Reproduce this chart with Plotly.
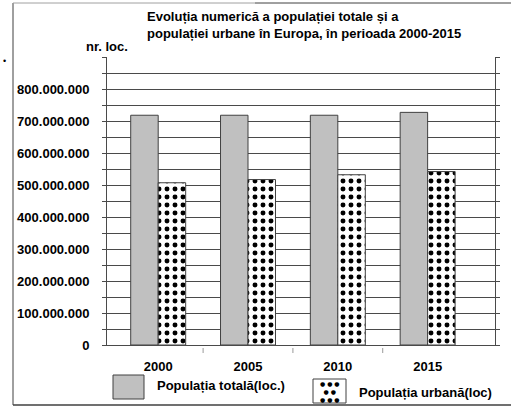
import plotly.graph_objects as go

# ---- data ----
years = ["2000", "2005", "2010", "2015"]
total_pop = [718e6, 718e6, 718e6, 727e6]
urban_pop = [507e6, 517e6, 532e6, 542e6]
y_ticks = [0, 100e6, 200e6, 300e6, 400e6, 500e6, 600e6, 700e6, 800e6]
series_names = ["Populația totală(loc.)", "Populația urbană(loc)"]
title_lines = ["Evoluția numerică a populației totale și a",
               "populației urbane în Europa, în perioada 2000-2015"]
y_title = "nr. loc."

W, H = 511, 407
L, R, T, B = 107, 495, 57, 345  # plot area in px


def px(x):
    return (x - L) / (R - L)


def py(y):
    return (B - y) / (B - T)


FONT = "Liberation Sans, Arial, sans-serif"
GRID = "#4a4a4a"

fig = go.Figure()
fig.add_trace(go.Bar(
    x=years, y=total_pop, name=series_names[0],
    marker=dict(color="#c0c0c0", line=dict(color="#404040", width=1)),
    showlegend=False,
))
fig.add_trace(go.Bar(
    x=years, y=urban_pop, name=series_names[1],
    marker=dict(color="white", line=dict(color="#404040", width=1),
                pattern=dict(shape=".", fgcolor="black", bgcolor="white",
                             size=8, solidity=0.3, fillmode="replace")),
    showlegend=False,
))

fig.update_layout(
    width=W, height=H,
    margin=dict(l=L, r=W - R, t=T, b=H - B, pad=0),
    paper_bgcolor="white", plot_bgcolor="white",
    separators=",.",
    barmode="group", bargap=0.388, bargroupgap=0,
    font=dict(family=FONT, size=13, color="black"),
    showlegend=False,
)
fig.update_yaxes(
    range=[0, 900e6], tickmode="array", tickvals=y_ticks, tickformat=",d",
    showgrid=True, gridcolor=GRID, gridwidth=1,
    showline=True, linecolor=GRID, linewidth=1, mirror="ticks",
    ticks="outside", ticklen=4, tickcolor=GRID,
    tickfont=dict(family=FONT, size=13, weight=700, color="black"),
    ticklabelstandoff=10,
    minor=dict(dtick=50e6, showgrid=True, gridcolor=GRID, gridwidth=1,
               ticks="outside", ticklen=4, tickcolor=GRID),
    zeroline=False,
)
fig.update_xaxes(
    type="category", range=[-0.57, 3.75],
    showgrid=False, showline=True, linecolor=GRID, linewidth=1,
    ticks="", tickfont=dict(family=FONT, size=13, weight=700, color="black"),
    ticklabelstandoff=9,
)

ann = []
# title
ann.append(dict(xref="paper", yref="paper", x=px(145), y=py(25),
                xanchor="left", yanchor="middle", align="left", showarrow=False,
                text="<br>".join(title_lines),
                font=dict(family=FONT, size=13, weight=700, color="black")))
# y-axis title
ann.append(dict(xref="paper", yref="paper", x=px(106.5), y=py(47),
                xanchor="center", yanchor="middle", showarrow=False,
                text=y_title,
                font=dict(family=FONT, size=13, weight=700, color="black")))
# legend labels
ann.append(dict(xref="paper", yref="paper", x=px(155), y=py(385),
                xanchor="left", yanchor="middle", showarrow=False,
                text=series_names[0],
                font=dict(family=FONT, size=13, weight=700, color="black")))
ann.append(dict(xref="paper", yref="paper", x=px(357), y=py(392),
                xanchor="left", yanchor="middle", showarrow=False,
                text=series_names[1],
                font=dict(family=FONT, size=13, weight=700, color="black")))
# dots inside the urban legend swatch
ann.append(dict(xref="paper", yref="paper", x=px(329.5), y=py(391),
                xanchor="center", yanchor="middle", showarrow=False,
                text="● ● ●<br>● ●<br>● ● ●",
                font=dict(family="DejaVu Sans", size=6, color="black")))
# stray mark at the left
ann.append(dict(xref="paper", yref="paper", x=px(4), y=py(61),
                xanchor="center", yanchor="middle", showarrow=False,
                text="•", font=dict(family=FONT, size=9, color="black")))
fig.update_layout(annotations=ann)

shapes = []
# short separator ticks between the year groups
for bx in [0.5, 1.5, 2.5]:
    shapes.append(dict(type="line", xref="x", yref="paper",
                       x0=bx, x1=bx, y0=py(348), y1=py(353),
                       line=dict(color="#999999", width=1)))
# legend swatches
shapes.append(dict(type="rect", xref="paper", yref="paper",
                   x0=px(113), x1=px(144), y0=py(399), y1=py(375),
                   fillcolor="#c0c0c0", line=dict(color="#404040", width=1)))
shapes.append(dict(type="rect", xref="paper", yref="paper",
                   x0=px(313), x1=px(346), y0=py(403), y1=py(379),
                   fillcolor="white", line=dict(color="#404040", width=1)))
# outer frame
shapes.append(dict(type="line", xref="paper", yref="paper",
                   x0=px(13), x1=px(13), y0=py(3), y1=py(405),
                   line=dict(color="#404040", width=1)))
shapes.append(dict(type="line", xref="paper", yref="paper",
                   x0=px(13), x1=px(255), y0=py(3), y1=py(3),
                   line=dict(color="#a0a0a0", width=1)))
shapes.append(dict(type="line", xref="paper", yref="paper",
                   x0=px(255), x1=px(511), y0=py(3), y1=py(3),
                   line=dict(color="#404040", width=1)))
shapes.append(dict(type="line", xref="paper", yref="paper",
                   x0=px(13), x1=px(511), y0=py(405), y1=py(405),
                   line=dict(color="#404040", width=1.5)))
fig.update_layout(shapes=shapes)

fig.write_html("out.html",
               config={"displayModeBar": False},
               post_script="document.body.style.margin='0';"
                           "document.body.style.overflow='hidden';")
